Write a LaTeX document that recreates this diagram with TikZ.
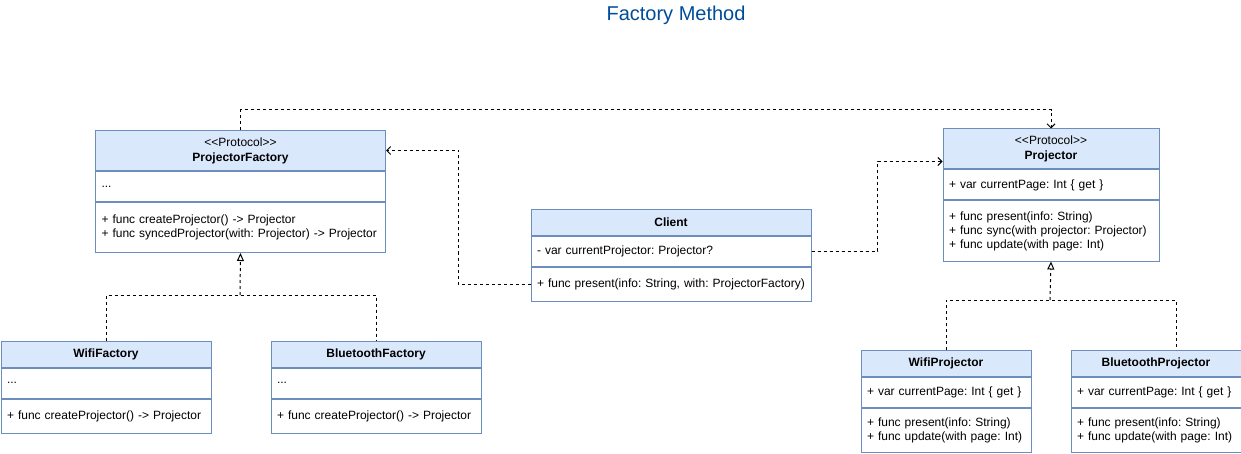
\documentclass[tikz,border=0pt]{standalone}
\usepackage{fontspec}
\setmainfont{Liberation Sans}
\usetikzlibrary{positioning,arrows.meta}
\definecolor{umlblue}{HTML}{DAE8FC}
\definecolor{umlline}{HTML}{6C8EBF}
\definecolor{titleblue}{HTML}{004C99}

\begin{document}
\frenchspacing
\hyphenpenalty=10000
\begin{tikzpicture}[x=1pt, y=-1pt, line width=1pt,
		head/.style={draw=umlline, fill=umlblue, inner sep=0pt, align=center, font=\fontsize{12}{15}\selectfont},
		part/.style={draw=umlline, fill=white, inner xsep=6pt, inner ysep=0pt, align=left, font=\fontsize{12}{14}\selectfont},
		link/.style={dash pattern=on 3pt off 3pt},
		dep/.style={link, -{Straight Barb[length=4pt,width=8pt]}},
		real/.style={link, -{Triangle[open,length=8pt,width=7pt]}}]
			\useasboundingbox (0,0) rectangle (1241,454);
			\node [font=\fontsize{20}{24}\selectfont, text=titleblue] (title) at (676,15) {Factory Method};
			\node [head, minimum width=290pt, minimum height=40pt, anchor=north west] (PF) at (95,130) {<{}<Protocol>{}>\\\textbf{ProjectorFactory}};
			\node [part, text width=278pt, minimum height=30pt] (PFa) [below=0pt of PF] {...};
			\node [part, text width=278pt, minimum height=50pt] (PFm) [below=0pt of PFa] {+ func createProjector() -> Projector\\+ func syncedProjector(with: Projector) -> Projector};
			\node [head, minimum width=210pt, minimum height=26pt, anchor=north west] (WF) at (0.5,340.5) {\textbf{WifiFactory}};
			\node [part, text width=198pt, minimum height=30pt] (WFa) [below=0pt of WF] {...};
			\node [part, text width=198pt, minimum height=34pt] (WFm) [below=0pt of WFa] {+ func createProjector() -> Projector};
			\node [head, minimum width=210pt, minimum height=26pt, anchor=north west] (BF) at (270.5,340.5) {\textbf{BluetoothFactory}};
			\node [part, text width=198pt, minimum height=30pt] (BFa) [below=0pt of BF] {...};
			\node [part, text width=198pt, minimum height=34pt] (BFm) [below=0pt of BFa] {+ func createProjector() -> Projector};
			\node [head, minimum width=280pt, minimum height=26pt, anchor=north west] (CL) at (530.5,209) {\textbf{Client}};
			\node [part, text width=268pt, minimum height=30pt] (CLa) [below=0pt of CL] {- var currentProjector: Projector?};
			\node [part, text width=268pt, minimum height=34pt] (CLm) [below=0pt of CLa] {+ func present(info: String, with: ProjectorFactory)};
			\node [head, minimum width=216pt, minimum height=40pt, anchor=north west] (PR) at (942.5,128.5) {<{}<Protocol>{}>\\\textbf{Projector}};
			\node [part, text width=204pt, minimum height=30pt] (PRa) [below=0pt of PR] {+ var currentPage: Int \{ get \}};
			\node [part, text width=204pt, minimum height=60pt] (PRm) [below=0pt of PRa] {+ func present(info: String)\\+ func sync(with projector: Projector)\\+ func update(with page: Int)};
			\node [head, minimum width=170pt, minimum height=26pt, anchor=north west] (WP) at (860.5,350) {\textbf{WifiProjector}};
			\node [part, text width=158pt, minimum height=30pt] (WPa) [below=0pt of WP] {+ var currentPage: Int \{ get \}};
			\node [part, text width=158pt, minimum height=44pt] (WPm) [below=0pt of WPa] {+ func present(info: String)\\+ func update(with page: Int)};
			\node [head, minimum width=170pt, minimum height=26pt, anchor=north west] (BP) at (1070.5,350) {\textbf{BluetoothProjector}};
			\node [part, text width=158pt, minimum height=30pt] (BPa) [below=0pt of BP] {+ var currentPage: Int \{ get \}};
			\node [part, text width=158pt, minimum height=44pt] (BPm) [below=0pt of BPa] {+ func present(info: String)\\+ func update(with page: Int)};
			\coordinate (fj) at (240,295);
			\coordinate (pj) at (1050,300);
			\draw [link] (WF.north) |- (fj) -| (BF.north);
			\draw [real] (fj) -- (PFm.south);
			\draw [link] (WP.north) |- (pj) -| ([xshift=20pt]BP.north);
			\draw [real] (pj) -- (PRm.south);
			\draw [dep] (PF.north) -- ++(0,-20) -| (PR.north);
			\draw [dep] (CLm.west) -- ++(-72,0) |- (PF.east);
			\draw [dep] (CLa.east) -- ++(66,0) |- ([yshift=-33pt]PR.north west);
		\end{tikzpicture}
\end{document}
